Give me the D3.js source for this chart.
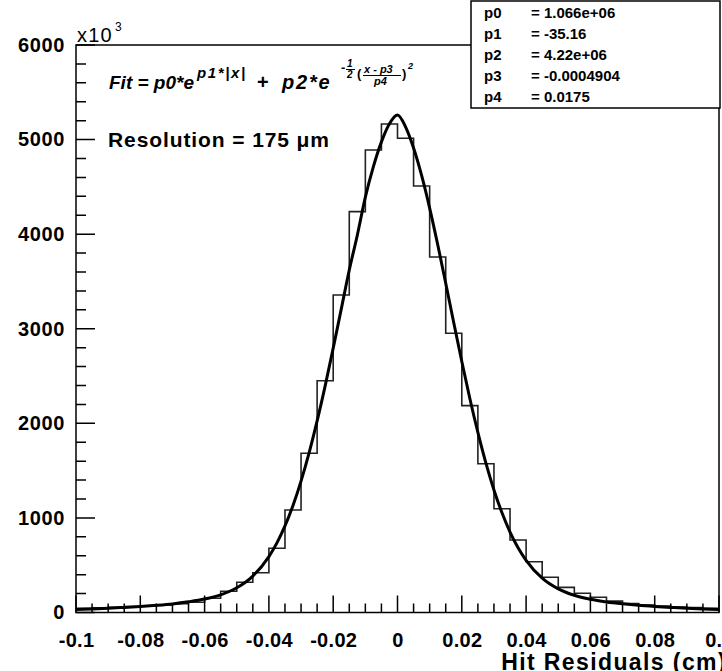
<!DOCTYPE html>
<html>
<head>
<meta charset="utf-8">
<script src="https://cdn.jsdelivr.net/npm/d3@7/dist/d3.min.js"></script>
<style>
body{margin:0;background:#fff;}
svg text{font-family:"Liberation Sans",Arial,Helvetica,sans-serif;}
</style>
</head>
<body>
<div id="plotdiv"></div>
<script>
// bin contents (x10^3), 40 bins of 0.005 cm from -0.1 to 0.1
var binLow = -0.1;
var binWidth = 0.005;
var binCounts = [45,50,55,62,70,80,92,108,150,225,
                 320,420,679,1084,1683,2451,3357,4238,4890,5165,
                 5014,4509,3759,2952,2187,1573,1097,767,537,372,
                 266,203,161,120,95,80,68,58,52,45];

// fit curve (x10^3)
var fitX = [-0.1,-0.095,-0.09,-0.085,-0.08,-0.075,-0.07,-0.065,-0.06,-0.055,-0.05,-0.045,
            -0.04,-0.0375,-0.035,-0.0325,-0.03,-0.0275,-0.025,-0.0225,-0.02,-0.0175,-0.015,-0.0125,
            -0.01,-0.0075,-0.005,-0.0025,0,0.0025,0.005,0.0075,0.01,0.0125,0.015,0.0175,
            0.02,0.0225,0.025,0.0275,0.03,0.0325,0.035,0.0375,0.04,
            0.045,0.05,0.055,0.06,0.065,0.07,0.075,0.08,0.085,0.09,0.095,0.1];
var fitY = [32,38,45,54,64,76,91,113,142,187,261,385,
            591,736,915,1132,1389,1687,2025,2396,2795,3207,3621,3989,
            4391,4714,4976,5168,5260,5135,4911,4621,4276,3891,3481,3064,
            2654,2263,1904,1579,1296,1054,851,685,552,
            363,250,182,140,112,92,76,64,54,45,38,32];

var xTicks = [-0.1,-0.08,-0.06,-0.04,-0.02,0,0.02,0.04,0.06,0.08,0.1];
var yTicks = [0,1000,2000,3000,4000,5000,6000];

var parNames = ["p0","p1","p2","p3","p4"];
var parValues = ["= 1.066e+06","= -35.16","= 4.22e+06","= -0.0004904","= 0.0175"];

function drawChart()
{
	var width = 722;
	var height = 671;
	var left = 76, right = 719, top = 45, bottom = 612.5;

	var svg = d3.select("#plotdiv").append("svg")
		.attr("width",width)
		.attr("height",height);

	var x = d3.scaleLinear().domain([-0.1,0.1]).range([left,right]);
	var y = d3.scaleLinear().domain([0,6000]).range([bottom,top]);

	// histogram
	var histPts = binCounts.map(function(c,i){return [binLow+i*binWidth, c];});
	histPts.push([binLow+binCounts.length*binWidth, binCounts[binCounts.length-1]]);
	var stepLine = d3.line()
		.x(function(d){return x(d[0]);})
		.y(function(d){return y(d[1]);})
		.curve(d3.curveStepAfter);
	svg.append("path")
		.attr("d",stepLine(histPts))
		.attr("fill","none")
		.attr("stroke","#222")
		.attr("stroke-width",1.6);

	// fit
	var fitLine = d3.line()
		.x(function(d,i){return x(fitX[i]);})
		.y(function(d){return y(d);})
		.curve(d3.curveMonotoneX);
	svg.append("path")
		.attr("d",fitLine(fitY))
		.attr("fill","none")
		.attr("stroke","#000")
		.attr("stroke-width",3)
		.attr("stroke-linejoin","round");

	// ticks drawn inside the frame, as one path
	var tp = d3.path();
	d3.range(0,41).forEach(function(i){
		var xv = x(binLow + i*binWidth);
		tp.moveTo(xv,bottom);
		tp.lineTo(xv,bottom - (i % 4 === 0 ? 17 : 9));
	});
	d3.range(0,31).forEach(function(i){
		var yv = y(i*200);
		tp.moveTo(left,yv);
		tp.lineTo(left + (i % 5 === 0 ? 19 : 10),yv);
	});
	svg.append("path")
		.attr("d",tp.toString())
		.attr("fill","none")
		.attr("stroke","#000")
		.attr("stroke-width",1.5);

	var xa = svg.append("g")
		.attr("transform","translate(0,"+bottom+")")
		.call(d3.axisBottom(x).tickValues(xTicks).tickSize(0).tickPadding(20)
			.tickFormat(function(d){return d===0 ? "0" : String(+d.toFixed(2));}));
	xa.select(".domain").remove();
	xa.selectAll("text")
		.attr("font-size",20).attr("font-weight","bold")
		.attr("font-family","Liberation Sans, Arial, sans-serif")
		.style("letter-spacing","0.3px");

	var ya = svg.append("g")
		.attr("transform","translate("+left+",0)")
		.call(d3.axisLeft(y).tickValues(yTicks).tickSize(0).tickPadding(11).tickFormat(d3.format("d")));
	ya.select(".domain").remove();
	ya.selectAll("text")
		.attr("font-size",20).attr("font-weight","bold")
		.attr("font-family","Liberation Sans, Arial, sans-serif")
		.style("letter-spacing","0.6px");

	// frame
	svg.append("rect")
		.attr("x",left).attr("y",top)
		.attr("width",right-left).attr("height",bottom-top)
		.attr("fill","none").attr("stroke","#000").attr("stroke-width",1.5);

	// x10^3
	svg.append("text").attr("x",77).attr("y",42)
		.attr("font-size",20).style("letter-spacing","1.2px").text("x10");
	svg.append("text").attr("x",115).attr("y",31)
		.attr("font-size",12).text("3");

	// axis title
	svg.append("text").attr("x",727).attr("y",670)
		.attr("text-anchor","end")
		.attr("font-size",23).attr("font-weight","bold")
		.style("letter-spacing","1.4px")
		.text("Hit Residuals (cm)");

	// fit formula
	var f = svg.append("g").attr("font-weight","bold").attr("font-style","italic");
	f.append("text").attr("x",109).attr("y",89).attr("font-size",19).text("Fit = p0*e");
	f.append("text").attr("x",197).attr("y",78).attr("font-size",15)
		.style("letter-spacing","1.6px").text("p1*|x|");
	f.append("text").attr("x",257).attr("y",89).attr("font-size",20).attr("font-style","normal").text("+");
	f.append("text").attr("x",282).attr("y",89).attr("font-size",20)
		.style("letter-spacing","1.8px").text("p2*e");
	f.append("text").attr("x",341).attr("y",72).attr("font-size",13).text("-");
	f.append("text").attr("x",347).attr("y",67).attr("font-size",10).text("1");
	f.append("text").attr("x",347).attr("y",78).attr("font-size",10).text("2");
	f.append("text").attr("x",357).attr("y",78).attr("font-size",13).attr("font-style","normal").text("(");
	f.append("text").attr("x",364).attr("y",73).attr("font-size",11).text("x - p3");
	f.append("path").attr("d","M363,75.5H401M346,69.5H355")
		.attr("stroke","#000").attr("stroke-width",1).attr("fill","none");
	f.append("text").attr("x",374).attr("y",85).attr("font-size",11).text("p4");
	f.append("text").attr("x",402).attr("y",78).attr("font-size",13).attr("font-style","normal").text(")");
	f.append("text").attr("x",408).attr("y",69).attr("font-size",9).text("2");

	svg.append("text").attr("x",108).attr("y",147)
		.attr("font-size",21).attr("font-weight","bold")
		.style("letter-spacing","0.9px")
		.text("Resolution = 175 \u03bcm");

	// fit parameters box
	var box = svg.append("g");
	box.append("rect").attr("x",471).attr("y",1).attr("width",249).attr("height",107)
		.attr("fill","#fff").attr("stroke","#000").attr("stroke-width",1.5);
	var rowY = d3.scalePoint().domain(parNames).range([13,97]);
	box.selectAll("text.pn").data(parNames).enter().append("text")
		.attr("class","pn").attr("x",484).attr("y",function(d){return rowY(d)+5;})
		.attr("font-size",15).attr("font-weight","bold").text(function(d){return d;});
	box.selectAll("text.pv").data(parValues).enter().append("text")
		.attr("class","pv").attr("x",531).attr("y",function(d,i){return rowY(parNames[i])+5;})
		.attr("font-size",15).attr("font-weight","bold").text(function(d){return d;});
}

drawChart();
</script>
</body>
</html>
